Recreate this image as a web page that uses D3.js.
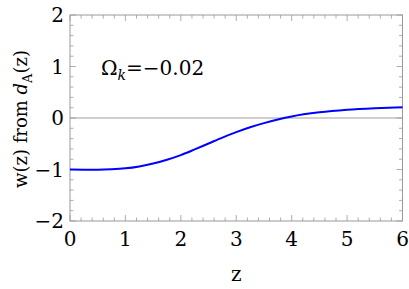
<!DOCTYPE html>
<html>
<head>
<meta charset="utf-8">
<script src="https://cdn.jsdelivr.net/npm/d3@7"></script>
<style>
  body { margin: 0; background: #fff; }
</style>
</head>
<body>
<div id="chart"></div>
<script>
// curve
var zValues = [0, 0.25, 0.5, 0.75, 1, 1.25, 1.5, 1.75, 2, 2.25, 2.5, 2.75, 3, 3.25, 3.5, 3.75, 4, 4.5, 5, 5.5, 6];
var wValues = [-1.0, -1.003, -1.005, -0.997, -0.978, -0.94, -0.885, -0.81, -0.72, -0.61, -0.495, -0.38, -0.275, -0.18, -0.10, -0.03, 0.03, 0.11, 0.16, 0.19, 0.21];
var xTicks = [0, 1, 2, 3, 4, 5, 6];
var yTicks = [-2, -1, 0, 1, 2];
var omegaLabel = "=\u22120.02";

var width = 409, height = 289;
var margin = {left: 70, right: 6.5, top: 15, bottom: 68};
var serif = "DejaVu Serif";

var svg = d3.select("#chart").append("svg")
    .attr("width", width)
    .attr("height", height)
    .attr("font-family", serif);

var xScale = d3.scaleLinear().domain([0, 6]).range([margin.left, width - margin.right]);
var yScale = d3.scaleLinear().domain([-2, 2]).range([height - margin.bottom, margin.top]);

var x0 = xScale(0), x1 = xScale(6), y0 = yScale(-2), y1 = yScale(2);

// zero line
svg.append("line")
    .attr("x1", x0).attr("x2", x1)
    .attr("y1", yScale(0)).attr("y2", yScale(0))
    .attr("stroke", "#a0a0a0")
    .attr("stroke-width", 1.2);

// ticks on all four sides, pointing in
var tickColor = "#999";
var xMinor = d3.range(0, 30.5, 1).map(function (d) { return d / 5; });
var yMinor = d3.range(-10, 10.5, 1).map(function (d) { return d / 5; });

function isMajor(v) { return Math.abs(v - Math.round(v)) < 1e-6; }

var tickG = svg.append("g").attr("stroke", tickColor).attr("stroke-width", 0.8);
xMinor.forEach(function (v) {
    var len = isMajor(v) ? 6 : 3.5;
    var x = xScale(v);
    tickG.append("line").attr("x1", x).attr("x2", x).attr("y1", y0).attr("y2", y0 - len);
    tickG.append("line").attr("x1", x).attr("x2", x).attr("y1", y1).attr("y2", y1 + len);
});
yMinor.forEach(function (v) {
    var len = isMajor(v) ? 6 : 3.5;
    var y = yScale(v);
    tickG.append("line").attr("x1", x0).attr("x2", x0 + len).attr("y1", y).attr("y2", y);
    tickG.append("line").attr("x1", x1).attr("x2", x1 - len).attr("y1", y).attr("y2", y);
});

// frame
svg.append("rect")
    .attr("x", x0).attr("y", y1)
    .attr("width", x1 - x0).attr("height", y0 - y1)
    .attr("fill", "none")
    .attr("stroke", tickColor)
    .attr("stroke-width", 1);

// tick labels
svg.append("g").selectAll("text").data(xTicks).enter()
    .append("text")
    .attr("x", function (d) { return xScale(d); })
    .attr("y", y0 + 25)
    .attr("text-anchor", "middle")
    .style("font-size", "20px")
    .text(function (d) { return d; });

svg.append("g").selectAll("text").data(yTicks).enter()
    .append("text")
    .attr("x", x0 - 6)
    .attr("y", function (d) { return yScale(d) + 7; })
    .attr("text-anchor", "end")
    .style("font-size", "20px")
    .text(function (d) { return d < 0 ? "\u2212" + Math.abs(d) : d; });

// curve
var points = zValues.map(function (z, i) { return {z: z, w: wValues[i]}; });
svg.append("path")
    .datum(points)
    .attr("fill", "none")
    .attr("stroke", "#0000ff")
    .attr("stroke-width", 2)
    .attr("d", d3.line()
        .curve(d3.curveMonotoneX)
        .x(function (d) { return xScale(d.z); })
        .y(function (d) { return yScale(d.w); }));

// Omega_k label
var om = svg.append("text")
    .attr("x", 101)
    .attr("y", 75)
    .style("font-size", "20px");
om.append("tspan").text("\u03a9");
om.append("tspan").attr("dy", 5).style("font-size", "14px").style("font-style", "italic").text("k");
om.append("tspan").attr("dy", -5).text(omegaLabel);

// axis titles
svg.append("text")
    .attr("x", xScale(3))
    .attr("y", 281)
    .attr("text-anchor", "middle")
    .style("font-size", "20px")
    .text("z");

var yt = svg.append("text")
    .attr("transform", "translate(27," + (yScale(0) + 1) + ") rotate(-90)")
    .attr("text-anchor", "middle")
    .style("font-size", "18px");
yt.append("tspan").text("w(z) from ");
yt.append("tspan").style("font-style", "italic").text("d");
yt.append("tspan").attr("dy", 5).style("font-size", "13px").text("A");
yt.append("tspan").attr("dy", -5).text("(z)");
</script>
</body>
</html>
